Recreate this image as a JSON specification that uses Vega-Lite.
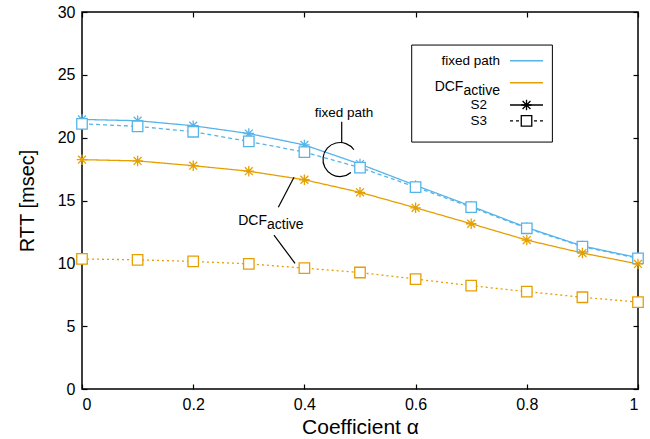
{
  "$schema": "https://vega.github.io/schema/vega-lite/v6.json",
  "width": 556,
  "height": 377,
  "autosize": {"type": "none"},
  "padding": {"left": 82, "top": 12, "right": 12, "bottom": 50},
  "background": "white",
  "config": {
    "font": "Liberation Sans",
    "view": {"stroke": "black", "strokeWidth": 1.5},
    "axis": {"domain": false, "grid": false, "tickColor": "black", "tickWidth": 1.2, "tickSize": -5, "labelColor": "black", "titleColor": "black", "labelFont": "Liberation Sans", "titleFont": "Liberation Sans", "titleFontWeight": "normal"}
  },
  "datasets": {
    "main": [
      {"alpha": 0.0, "rtt": 21.45, "method": "fixed path", "scheme": "S2", "series": "fixed path S2"},
      {"alpha": 0.1, "rtt": 21.35, "method": "fixed path", "scheme": "S2", "series": "fixed path S2"},
      {"alpha": 0.2, "rtt": 20.95, "method": "fixed path", "scheme": "S2", "series": "fixed path S2"},
      {"alpha": 0.3, "rtt": 20.33, "method": "fixed path", "scheme": "S2", "series": "fixed path S2"},
      {"alpha": 0.4, "rtt": 19.42, "method": "fixed path", "scheme": "S2", "series": "fixed path S2"},
      {"alpha": 0.5, "rtt": 17.9, "method": "fixed path", "scheme": "S2", "series": "fixed path S2"},
      {"alpha": 0.6, "rtt": 16.2, "method": "fixed path", "scheme": "S2", "series": "fixed path S2"},
      {"alpha": 0.7, "rtt": 14.55, "method": "fixed path", "scheme": "S2", "series": "fixed path S2"},
      {"alpha": 0.8, "rtt": 12.85, "method": "fixed path", "scheme": "S2", "series": "fixed path S2"},
      {"alpha": 0.9, "rtt": 11.38, "method": "fixed path", "scheme": "S2", "series": "fixed path S2"},
      {"alpha": 1.0, "rtt": 10.45, "method": "fixed path", "scheme": "S2", "series": "fixed path S2"},
      {"alpha": 0.0, "rtt": 21.1, "method": "fixed path", "scheme": "S3", "series": "fixed path S3"},
      {"alpha": 0.1, "rtt": 20.9, "method": "fixed path", "scheme": "S3", "series": "fixed path S3"},
      {"alpha": 0.2, "rtt": 20.47, "method": "fixed path", "scheme": "S3", "series": "fixed path S3"},
      {"alpha": 0.3, "rtt": 19.7, "method": "fixed path", "scheme": "S3", "series": "fixed path S3"},
      {"alpha": 0.4, "rtt": 18.85, "method": "fixed path", "scheme": "S3", "series": "fixed path S3"},
      {"alpha": 0.5, "rtt": 17.62, "method": "fixed path", "scheme": "S3", "series": "fixed path S3"},
      {"alpha": 0.6, "rtt": 16.07, "method": "fixed path", "scheme": "S3", "series": "fixed path S3"},
      {"alpha": 0.7, "rtt": 14.47, "method": "fixed path", "scheme": "S3", "series": "fixed path S3"},
      {"alpha": 0.8, "rtt": 12.79, "method": "fixed path", "scheme": "S3", "series": "fixed path S3"},
      {"alpha": 0.9, "rtt": 11.33, "method": "fixed path", "scheme": "S3", "series": "fixed path S3"},
      {"alpha": 1.0, "rtt": 10.4, "method": "fixed path", "scheme": "S3", "series": "fixed path S3"},
      {"alpha": 0.0, "rtt": 18.25, "method": "DCF", "scheme": "S2", "series": "DCF S2"},
      {"alpha": 0.1, "rtt": 18.15, "method": "DCF", "scheme": "S2", "series": "DCF S2"},
      {"alpha": 0.2, "rtt": 17.77, "method": "DCF", "scheme": "S2", "series": "DCF S2"},
      {"alpha": 0.3, "rtt": 17.33, "method": "DCF", "scheme": "S2", "series": "DCF S2"},
      {"alpha": 0.4, "rtt": 16.65, "method": "DCF", "scheme": "S2", "series": "DCF S2"},
      {"alpha": 0.5, "rtt": 15.65, "method": "DCF", "scheme": "S2", "series": "DCF S2"},
      {"alpha": 0.6, "rtt": 14.42, "method": "DCF", "scheme": "S2", "series": "DCF S2"},
      {"alpha": 0.7, "rtt": 13.15, "method": "DCF", "scheme": "S2", "series": "DCF S2"},
      {"alpha": 0.8, "rtt": 11.85, "method": "DCF", "scheme": "S2", "series": "DCF S2"},
      {"alpha": 0.9, "rtt": 10.82, "method": "DCF", "scheme": "S2", "series": "DCF S2"},
      {"alpha": 1.0, "rtt": 9.95, "method": "DCF", "scheme": "S2", "series": "DCF S2"},
      {"alpha": 0.0, "rtt": 10.35, "method": "DCF", "scheme": "S3", "series": "DCF S3"},
      {"alpha": 0.1, "rtt": 10.28, "method": "DCF", "scheme": "S3", "series": "DCF S3"},
      {"alpha": 0.2, "rtt": 10.15, "method": "DCF", "scheme": "S3", "series": "DCF S3"},
      {"alpha": 0.3, "rtt": 9.96, "method": "DCF", "scheme": "S3", "series": "DCF S3"},
      {"alpha": 0.4, "rtt": 9.62, "method": "DCF", "scheme": "S3", "series": "DCF S3"},
      {"alpha": 0.5, "rtt": 9.27, "method": "DCF", "scheme": "S3", "series": "DCF S3"},
      {"alpha": 0.6, "rtt": 8.75, "method": "DCF", "scheme": "S3", "series": "DCF S3"},
      {"alpha": 0.7, "rtt": 8.22, "method": "DCF", "scheme": "S3", "series": "DCF S3"},
      {"alpha": 0.8, "rtt": 7.75, "method": "DCF", "scheme": "S3", "series": "DCF S3"},
      {"alpha": 0.9, "rtt": 7.3, "method": "DCF", "scheme": "S3", "series": "DCF S3"},
      {"alpha": 1.0, "rtt": 6.92, "method": "DCF", "scheme": "S3", "series": "DCF S3"}
    ],
    "legendItems": [
      {"item": "fixed path", "x": 0.7698, "x2": 0.8291, "xm": 0.7995, "y": 26.12},
      {"item": "DCF", "x": 0.7698, "x2": 0.8291, "xm": 0.7995, "y": 24.37},
      {"item": "S2", "x": 0.7698, "x2": 0.8291, "xm": 0.7995, "y": 22.6},
      {"item": "S3", "x": 0.7698, "x2": 0.8291, "xm": 0.7995, "y": 21.33}
    ],
    "legendText": [
      {"label": "fixed path", "x": 0.7518, "y": 26.12},
      {"label": "S2", "x": 0.7284, "y": 22.6},
      {"label": "S3", "x": 0.7284, "y": 21.33}
    ],
    "dcfMain": [
      {"label": "DCF", "x": 0.686, "y": 23.74},
      {"label": "DCF", "x": 0.3327, "y": 13.05}
    ],
    "dcfSub": [
      {"label": "active", "x": 0.686, "y": 23.4},
      {"label": "active", "x": 0.3327, "y": 12.73}
    ],
    "pointers": [
      {"x": 0.3531, "x2": 0.3813, "y": 14.46, "y2": 16.85},
      {"x": 0.3453, "x2": 0.3831, "y": 12.25, "y2": 10.0},
      {"x": 0.4671, "x2": 0.4671, "y": 21.27, "y2": 19.58}
    ]
  },
  "resolve": {
    "axis": {"x": "independent", "y": "independent"},
    "scale": {"color": "independent", "stroke": "independent", "strokeDash": "independent", "shape": "independent"}
  },
  "layer": [
    {
      "data": {"name": "main"},
      "mark": {"type": "line", "strokeWidth": 1.3},
      "encoding": {
        "x": {"field": "alpha", "type": "quantitative", "scale": {"domain": [0, 1], "nice": false, "zero": false},
          "axis": {"orient": "bottom", "values": [0, 0.2, 0.4, 0.6, 0.8, 1], "format": "~g", "labelFontSize": 16, "labelPadding": 12, "title": "Coefficient α", "titleFontSize": 21, "titleBaseline": "alphabetic", "titleY": 44}},
        "y": {"field": "rtt", "type": "quantitative", "scale": {"domain": [0, 30], "nice": false, "zero": false},
          "axis": {"orient": "left", "values": [0, 5, 10, 15, 20, 25, 30], "labelFontSize": 16, "labelPadding": 12, "title": "RTT [msec]", "titleFontSize": 20, "titleAngle": -90, "titleBaseline": "alphabetic", "titleAlign": "center", "titleX": -49, "titleY": 188.5}},
        "color": {"field": "method", "type": "nominal", "scale": {"domain": ["fixed path", "DCF"], "range": ["#56B4E9", "#E69F00"]}, "legend": null},
        "strokeDash": {"field": "series", "type": "nominal", "scale": {"domain": ["fixed path S2", "fixed path S3", "DCF S2", "DCF S3"], "range": [[1, 0], [4, 3], [1, 0], [2, 3]]}, "legend": null},
        "detail": {"field": "series"}
      }
    },
    {
      "data": {"name": "main"},
      "mark": {"type": "point", "filled": false, "fill": "white", "fillOpacity": 1, "strokeWidth": 1.3, "size": 110, "opacity": 1},
      "encoding": {
        "x": {"field": "alpha", "type": "quantitative", "scale": {"domain": [0, 1], "nice": false, "zero": false},
          "axis": {"orient": "top", "values": [0, 0.2, 0.4, 0.6, 0.8, 1], "labels": false, "title": null}},
        "y": {"field": "rtt", "type": "quantitative", "scale": {"domain": [0, 30], "nice": false, "zero": false},
          "axis": {"orient": "right", "values": [0, 5, 10, 15, 20, 25, 30], "labels": false, "title": null}},
        "stroke": {"field": "method", "type": "nominal", "scale": {"domain": ["fixed path", "DCF"], "range": ["#56B4E9", "#E69F00"]}, "legend": null},
        "shape": {"field": "scheme", "type": "nominal", "scale": {"domain": ["S2", "S3"], "range": ["M-1,0L1,0M0,-1L0,1M-0.75,-0.75L0.75,0.75M-0.75,0.75L0.75,-0.75", "square"]}, "legend": null}
      }
    },
    {
      "data": {"values": [{"x": 0.593, "x2": 0.846, "y": 27.37, "y2": 19.65}]},
      "mark": {"type": "rect", "fill": "white", "stroke": "black", "strokeWidth": 1},
      "encoding": {
        "x": {"field": "x", "type": "quantitative", "axis": null},
        "x2": {"field": "x2"},
        "y": {"field": "y", "type": "quantitative", "axis": null},
        "y2": {"field": "y2"}
      }
    },
    {
      "data": {"name": "legendItems"},
      "mark": {"type": "rule", "strokeWidth": 1.3},
      "encoding": {
        "x": {"field": "x", "type": "quantitative", "axis": null},
        "x2": {"field": "x2"},
        "y": {"field": "y", "type": "quantitative", "axis": null},
        "stroke": {"field": "item", "type": "nominal", "scale": {"domain": ["fixed path", "DCF", "S2", "S3"], "range": ["#56B4E9", "#E69F00", "black", "black"]}, "legend": null},
        "strokeDash": {"field": "item", "type": "nominal", "scale": {"domain": ["fixed path", "DCF", "S2", "S3"], "range": [[1, 0], [1, 0], [1, 0], [3, 3]]}, "legend": null}
      }
    },
    {
      "data": {"name": "legendItems"},
      "transform": [{"filter": "datum.item === 'S2' || datum.item === 'S3'"}],
      "mark": {"type": "point", "filled": false, "fill": "white", "fillOpacity": 1, "stroke": "black", "strokeWidth": 1.3, "size": 110, "opacity": 1},
      "encoding": {
        "x": {"field": "xm", "type": "quantitative", "axis": null},
        "y": {"field": "y", "type": "quantitative", "axis": null},
        "shape": {"field": "item", "type": "nominal", "scale": {"domain": ["S2", "S3"], "range": ["M-1,0L1,0M0,-1L0,1M-0.75,-0.75L0.75,0.75M-0.75,0.75L0.75,-0.75", "square"]}, "legend": null}
      }
    },
    {
      "data": {"name": "legendText"},
      "mark": {"type": "text", "align": "right", "baseline": "middle", "fontSize": 13.5, "font": "Liberation Sans", "color": "black"},
      "encoding": {
        "x": {"field": "x", "type": "quantitative", "axis": null},
        "y": {"field": "y", "type": "quantitative", "axis": null},
        "text": {"field": "label"}
      }
    },
    {
      "data": {"name": "dcfMain"},
      "mark": {"type": "text", "align": "right", "baseline": "alphabetic", "fontSize": 14, "font": "Liberation Sans", "color": "black"},
      "encoding": {
        "x": {"field": "x", "type": "quantitative", "axis": null},
        "y": {"field": "y", "type": "quantitative", "axis": null},
        "text": {"field": "label"}
      }
    },
    {
      "data": {"name": "dcfSub"},
      "mark": {"type": "text", "align": "left", "baseline": "alphabetic", "fontSize": 14, "font": "Liberation Sans", "color": "black"},
      "encoding": {
        "x": {"field": "x", "type": "quantitative", "axis": null},
        "y": {"field": "y", "type": "quantitative", "axis": null},
        "text": {"field": "label"}
      }
    },
    {
      "data": {"name": "pointers"},
      "mark": {"type": "rule", "stroke": "black", "strokeWidth": 1.2},
      "encoding": {
        "x": {"field": "x", "type": "quantitative", "axis": null},
        "x2": {"field": "x2"},
        "y": {"field": "y", "type": "quantitative", "axis": null},
        "y2": {"field": "y2"}
      }
    },
    {
      "data": {"values": [{"x": 0.464, "y": 18.26}]},
      "mark": {"type": "point", "shape": "M0.819,-0.574A1,1,0,1,0,0.643,0.766", "size": 1156, "filled": false, "stroke": "black", "strokeWidth": 1.2, "opacity": 1},
      "encoding": {
        "x": {"field": "x", "type": "quantitative", "axis": null},
        "y": {"field": "y", "type": "quantitative", "axis": null}
      }
    },
    {
      "data": {"values": [{"label": "fixed path", "x": 0.4712, "y": 21.64}]},
      "mark": {"type": "text", "align": "center", "baseline": "alphabetic", "fontSize": 13.5, "font": "Liberation Sans", "color": "black"},
      "encoding": {
        "x": {"field": "x", "type": "quantitative", "axis": null},
        "y": {"field": "y", "type": "quantitative", "axis": null},
        "text": {"field": "label"}
      }
    }
  ]
}
